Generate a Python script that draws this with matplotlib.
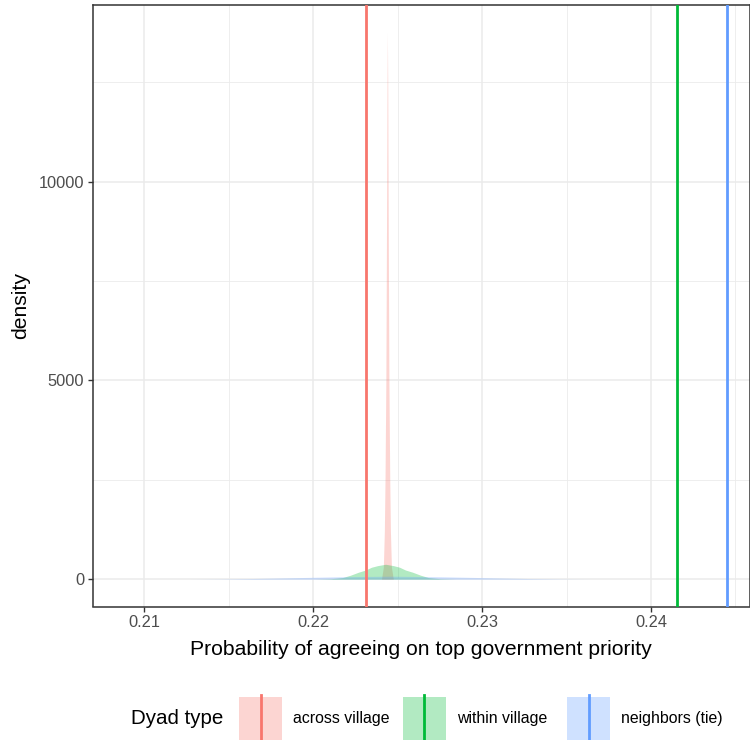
import matplotlib
matplotlib.use("Agg")
import matplotlib.pyplot as plt
from matplotlib.patches import Rectangle
from matplotlib.lines import Line2D
from matplotlib.ticker import MultipleLocator

plt.rcParams['font.family'] = ['Liberation Sans', 'DejaVu Sans']

# density curves (x = probability, y = density)
across_x = [0.22405, 0.22416, 0.22422, 0.22426, 0.22431, 0.22435, 0.22438, 0.22440,
            0.22442, 0.22445, 0.22449, 0.22454, 0.22458, 0.22464, 0.22475]
across_y = [0, 300, 1200, 2500, 5000, 9000, 12500, 13760, 12500, 9000, 5000, 2500, 1200, 300, 0]

within_x = [0.22015, 0.22104, 0.22175, 0.22222, 0.22269, 0.22311, 0.22346, 0.22382, 0.22429,
            0.22476, 0.22512, 0.22547, 0.22589, 0.22636, 0.22683, 0.22754, 0.22843]
within_y = [0, 10, 40, 100, 175, 230, 300, 340, 375, 340, 300, 230, 175, 100, 40, 10, 0]

tie_x = [0.21273, 0.21450, 0.21628, 0.21864, 0.22160, 0.22456, 0.22752, 0.23048, 0.23284,
         0.23462, 0.23639]
tie_y = [0, 5, 15, 35, 60, 75, 60, 35, 15, 5, 0]

# observed values (vertical lines)
observed = [0.22314, 0.24156, 0.24451]

labels = ['across village', 'within village', 'neighbors (tie)']
colors = ['#F8766D', '#00BA38', '#619CFF']

fig = plt.figure(figsize=(7.5, 7.4), dpi=100)
ax = fig.add_axes([92.7 / 750, 1 - 606.5 / 740, 656.8 / 750, 601.5 / 740])

curves = [(across_x, across_y), (within_x, within_y), (tie_x, tie_y)]
for (xs, ys), col in zip(curves, colors):
    ax.fill_between(xs, 0, ys, color=col, alpha=0.3, linewidth=0, zorder=2)

for val, col in zip(observed, colors):
    ax.axvline(val, color=col, linewidth=2.0, zorder=3)

ax.set_xlim(0.20696, 0.24583)
ax.set_ylim(-688, 14447)

ax.xaxis.set_major_locator(MultipleLocator(0.01))
ax.xaxis.set_minor_locator(MultipleLocator(0.005))
ax.yaxis.set_major_locator(MultipleLocator(5000))
ax.yaxis.set_minor_locator(MultipleLocator(2500))
ax.set_xticks([0.21, 0.22, 0.23, 0.24])
ax.set_xticklabels(['0.21', '0.22', '0.23', '0.24'])
ax.set_yticks([0, 5000, 10000])
ax.set_yticklabels(['0', '5000', '10000'])

ax.grid(which='major', color='#EBEBEB', linewidth=1.1, zorder=0)
ax.grid(which='minor', color='#EBEBEB', linewidth=0.6, zorder=0)
ax.set_axisbelow(True)
ax.tick_params(which='minor', length=0)
ax.tick_params(which='major', length=3.5, width=1.0, color='#333333',
               labelcolor='#4D4D4D', labelsize=11.8, pad=2.5)
for sp in ax.spines.values():
    sp.set_color('#333333')
    sp.set_linewidth(1.1)

ax.set_xlabel('Probability of agreeing on top government priority', fontsize=15.2, labelpad=7)
ax.set_ylabel('density', fontsize=15.2, labelpad=6)

# legend at the bottom
fig.text(131 / 750, 1 - 718 / 740, 'Dyad type', fontsize=14.8, va='center', ha='left')
key_left = [239, 403, 567]
for x0, lab, col in zip(key_left, labels, colors):
    fig.patches.append(Rectangle((x0 / 750, 0), 43 / 750, 43 / 740, transform=fig.transFigure,
                                 facecolor=col, alpha=0.3, linewidth=0))
    xm = (x0 + 21.5) / 750
    fig.lines.append(Line2D([xm, xm], [0, 45 / 740], transform=fig.transFigure,
                            color=col, linewidth=2.0))
    fig.text((x0 + 54) / 750, 1 - 718 / 740, lab, fontsize=11.4, va='center', ha='left')

fig.savefig('out.png', dpi=100)
